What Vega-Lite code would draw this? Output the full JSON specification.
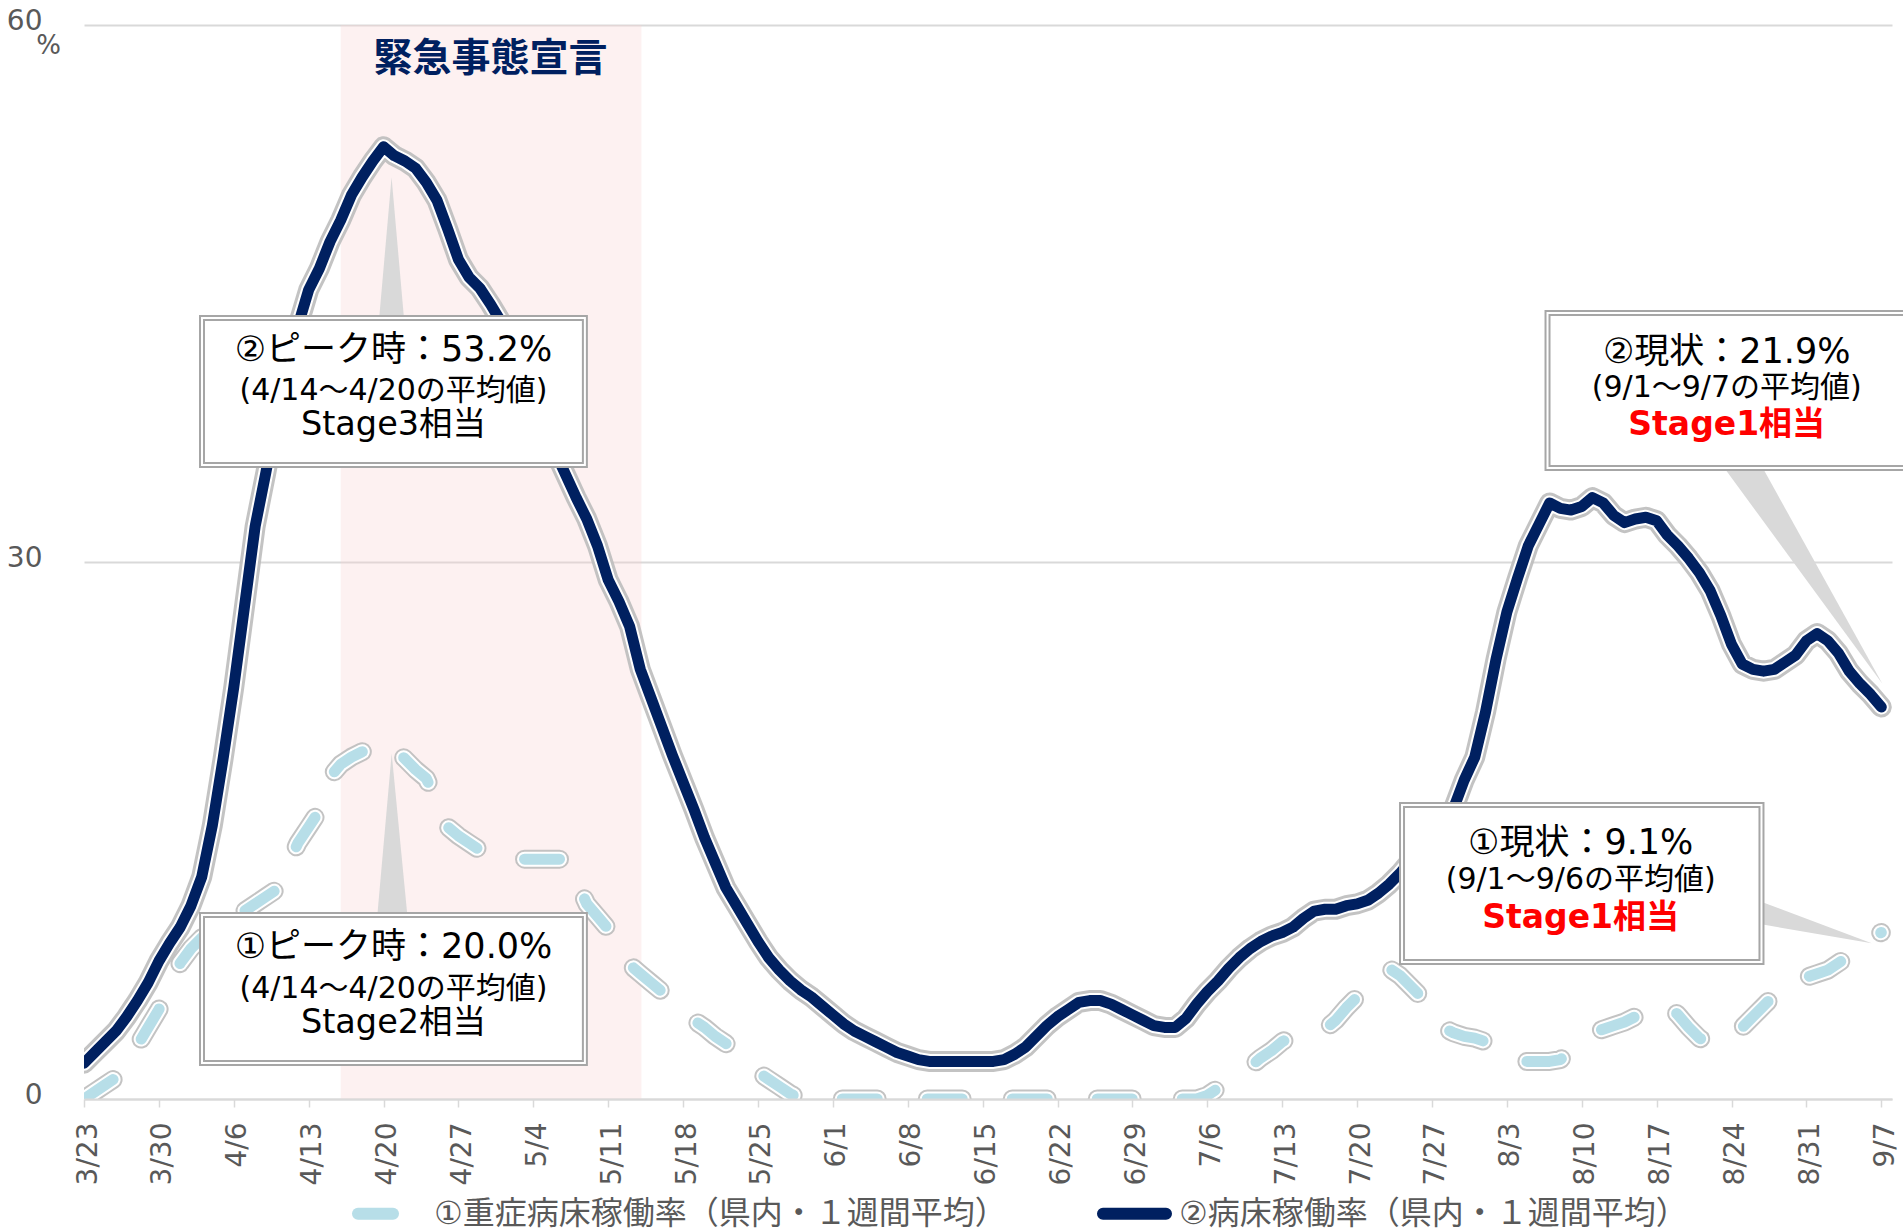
{
  "$schema": "https://vega.github.io/schema/vega-lite/v6.json",
  "width": 1808,
  "height": 1074,
  "autosize": {"type": "none"},
  "padding": {"left": 84, "top": 25, "right": 11, "bottom": 133},
  "background": "white",
  "config": {"font": "DejaVu Sans, Noto Sans CJK JP", "view": {"stroke": null}},
  "datasets": {
    "series": [
      {"d":0,"a":0.0,"b":2.0},{"d":1,"a":0.4,"b":2.6},{"d":2,"a":0.8,"b":3.2},{"d":3,"a":1.2,"b":3.8},{"d":4,"a":1.8,"b":4.6},
      {"d":5,"a":3.0,"b":5.5},{"d":6,"a":4.0,"b":6.5},{"d":7,"a":5.0,"b":7.7},{"d":8,"a":6.3,"b":8.7},{"d":9,"a":7.6,"b":9.6},
      {"d":10,"a":8.4,"b":10.8},{"d":11,"a":9.0,"b":12.4},{"d":12,"a":9.4,"b":15.3},{"d":13,"a":9.8,"b":19.0},{"d":14,"a":10.1,"b":23.0},
      {"d":15,"a":10.5,"b":27.5},{"d":16,"a":10.9,"b":32.0},{"d":17,"a":11.3,"b":35.0},{"d":18,"a":11.7,"b":38.2},{"d":19,"a":13.0,"b":41.0},
      {"d":20,"a":14.3,"b":43.2},{"d":21,"a":15.2,"b":45.2},{"d":22,"a":16.1,"b":46.4},{"d":23,"a":18.0,"b":47.9},{"d":24,"a":18.7,"b":49.1},
      {"d":25,"a":19.1,"b":50.5},{"d":26,"a":19.4,"b":51.5},{"d":27,"a":19.7,"b":52.4},{"d":28,"a":20.0,"b":53.2},{"d":29,"a":19.6,"b":52.7},
      {"d":30,"a":19.0,"b":52.4},{"d":31,"a":18.4,"b":52.0},{"d":32,"a":17.9,"b":51.2},{"d":33,"a":16.6,"b":50.2},{"d":34,"a":15.2,"b":48.6},
      {"d":35,"a":14.7,"b":46.9},{"d":36,"a":14.3,"b":45.9},{"d":37,"a":13.9,"b":45.3},{"d":38,"a":13.6,"b":44.4},{"d":39,"a":13.4,"b":43.4},
      {"d":40,"a":13.4,"b":42.0},{"d":41,"a":13.4,"b":40.5},{"d":42,"a":13.4,"b":39.0},{"d":43,"a":13.4,"b":37.6},{"d":44,"a":13.4,"b":36.2},
      {"d":45,"a":13.4,"b":34.9},{"d":46,"a":12.2,"b":33.6},{"d":47,"a":10.9,"b":32.4},{"d":48,"a":10.2,"b":30.9},{"d":49,"a":9.5,"b":29.0},
      {"d":50,"a":8.5,"b":27.8},{"d":51,"a":7.5,"b":26.4},{"d":52,"a":7.0,"b":24.0},{"d":53,"a":6.5,"b":22.4},{"d":54,"a":6.0,"b":20.8},
      {"d":55,"a":5.5,"b":19.2},{"d":56,"a":5.0,"b":17.7},{"d":57,"a":4.4,"b":16.2},{"d":58,"a":4.0,"b":14.6},{"d":59,"a":3.5,"b":13.2},
      {"d":60,"a":3.1,"b":11.8},{"d":61,"a":2.7,"b":10.8},{"d":62,"a":2.1,"b":9.8},{"d":63,"a":1.5,"b":8.8},{"d":64,"a":1.1,"b":7.9},
      {"d":65,"a":0.7,"b":7.2},{"d":66,"a":0.3,"b":6.6},{"d":67,"a":0,"b":6.1},{"d":68,"a":0,"b":5.7},{"d":69,"a":0,"b":5.2},
      {"d":70,"a":0,"b":4.7},{"d":71,"a":0,"b":4.2},{"d":72,"a":0,"b":3.8},{"d":73,"a":0,"b":3.5},{"d":74,"a":0,"b":3.2},
      {"d":75,"a":0,"b":2.9},{"d":76,"a":0,"b":2.6},{"d":77,"a":0,"b":2.4},{"d":78,"a":0,"b":2.2},{"d":79,"a":0,"b":2.1},
      {"d":80,"a":0,"b":2.1},{"d":81,"a":0,"b":2.1},{"d":82,"a":0,"b":2.1},{"d":83,"a":0,"b":2.1},{"d":84,"a":0,"b":2.1},
      {"d":85,"a":0,"b":2.1},{"d":86,"a":0,"b":2.2},{"d":87,"a":0,"b":2.5},{"d":88,"a":0,"b":2.9},{"d":89,"a":0,"b":3.5},
      {"d":90,"a":0,"b":4.1},{"d":91,"a":0,"b":4.6},{"d":92,"a":0,"b":5.0},{"d":93,"a":0,"b":5.4},{"d":94,"a":0,"b":5.5},
      {"d":95,"a":0,"b":5.5},{"d":96,"a":0,"b":5.3},{"d":97,"a":0,"b":5.0},{"d":98,"a":0,"b":4.7},{"d":99,"a":0,"b":4.4},
      {"d":100,"a":0,"b":4.1},{"d":101,"a":0,"b":4.0},{"d":102,"a":0,"b":4.0},{"d":103,"a":0,"b":4.5},{"d":104,"a":0,"b":5.3},
      {"d":105,"a":0.2,"b":6.0},{"d":106,"a":0.6,"b":6.6},{"d":107,"a":0.9,"b":7.3},{"d":108,"a":1.4,"b":7.9},{"d":109,"a":1.8,"b":8.4},
      {"d":110,"a":2.3,"b":8.8},{"d":111,"a":2.7,"b":9.1},{"d":112,"a":3.2,"b":9.3},{"d":113,"a":3.5,"b":9.6},{"d":114,"a":3.6,"b":10.1},
      {"d":115,"a":3.7,"b":10.5},{"d":116,"a":3.9,"b":10.6},{"d":117,"a":4.4,"b":10.6},{"d":118,"a":5.1,"b":10.8},{"d":119,"a":5.7,"b":10.9},
      {"d":120,"a":6.3,"b":11.1},{"d":121,"a":6.9,"b":11.5},{"d":122,"a":7.3,"b":12.0},{"d":123,"a":6.9,"b":12.6},{"d":124,"a":6.3,"b":13.3},
      {"d":125,"a":5.7,"b":13.9},{"d":126,"a":4.8,"b":14.6},{"d":127,"a":4.0,"b":15.4},{"d":128,"a":3.7,"b":16.2},{"d":129,"a":3.5,"b":17.8},
      {"d":130,"a":3.4,"b":19.1},{"d":131,"a":3.2,"b":21.6},{"d":132,"a":2.7,"b":24.6},{"d":133,"a":2.3,"b":27.2},{"d":134,"a":2.1,"b":29.1},
      {"d":135,"a":2.1,"b":30.9},{"d":136,"a":2.1,"b":32.1},{"d":137,"a":2.1,"b":33.3},{"d":138,"a":2.2,"b":33.0},{"d":139,"a":2.7,"b":32.9},
      {"d":140,"a":3.2,"b":33.1},{"d":141,"a":3.7,"b":33.6},{"d":142,"a":3.9,"b":33.3},{"d":143,"a":4.1,"b":32.6},{"d":144,"a":4.3,"b":32.2},
      {"d":145,"a":4.6,"b":32.4},{"d":146,"a":5.0,"b":32.5},{"d":147,"a":5.3,"b":32.3},{"d":148,"a":5.3,"b":31.5},{"d":149,"a":4.7,"b":30.9},
      {"d":150,"a":4.0,"b":30.2},{"d":151,"a":3.4,"b":29.4},{"d":152,"a":3.1,"b":28.4},{"d":153,"a":3.1,"b":27.0},{"d":154,"a":3.4,"b":25.4},
      {"d":155,"a":4.0,"b":24.3},{"d":156,"a":4.6,"b":24.0},{"d":157,"a":5.2,"b":23.9},{"d":158,"a":5.8,"b":24.0},{"d":159,"a":6.4,"b":24.4},
      {"d":160,"a":6.7,"b":24.8},{"d":161,"a":6.8,"b":25.6},{"d":162,"a":7.0,"b":26.0},{"d":163,"a":7.2,"b":25.6},{"d":164,"a":7.6,"b":24.9},
      {"d":165,"a":8.0,"b":23.9},{"d":166,"a":8.6,"b":23.2},{"d":167,"a":9.1,"b":22.6},{"d":168,"a":9.3,"b":21.9}
    ],
    "band": [{"d":24,"d2":52.1,"v":0,"v2":60}],
    "bandLabel": [{"d":38,"v":58.08,"t":"緊急事態宣言"}],
    "pointers": [
      {"p":1,"d":27.5,"v":43.0,"v2":43.0},{"p":1,"d":28.75,"v":51.5,"v2":43.0},{"p":1,"d":30.0,"v":43.0,"v2":43.0},
      {"p":2,"d":27.35,"v":9.8,"v2":9.8},{"p":2,"d":28.76,"v":19.3,"v2":9.8},{"p":2,"d":30.3,"v":9.8,"v2":9.8},
      {"p":3,"d":152.9,"v":35.6,"v2":35.6},{"p":3,"d":156.6,"v":35.6,"v2":32.58},{"p":3,"d":168.1,"v":23.2,"v2":23.2},
      {"p":4,"d":156.4,"v":11.1,"v2":9.8},{"p":4,"d":167.1,"v":8.7,"v2":8.7}
    ],
    "boxes": [
      {"d":11.03,"d2":46.82,"v":43.63,"v2":35.42},
      {"d":11.03,"d2":46.82,"v":10.28,"v2":2.01},
      {"d":136.8,"d2":171,"v":43.91,"v2":35.25},
      {"d":123.2,"d2":156.8,"v":16.42,"v2":7.65}
    ],
    "texts": [
      {"d":28.93,"v":41.84,"t":"②ピーク時：53.2%","r":"head"},
      {"d":28.93,"v":39.55,"t":"(4/14～4/20の平均値)","r":"sub"},
      {"d":28.93,"v":37.65,"t":"Stage3相当","r":"stage"},
      {"d":28.93,"v":8.49,"t":"①ピーク時：20.0%","r":"head"},
      {"d":28.93,"v":6.15,"t":"(4/14～4/20の平均値)","r":"sub"},
      {"d":28.93,"v":4.25,"t":"Stage2相当","r":"stage"},
      {"d":153.55,"v":41.73,"t":"②現状：21.9%","r":"head"},
      {"d":153.55,"v":39.72,"t":"(9/1～9/7の平均値)","r":"sub"},
      {"d":153.55,"v":37.65,"t":"Stage1相当","r":"red"},
      {"d":139.9,"v":14.30,"t":"①現状：9.1%","r":"head"},
      {"d":139.9,"v":12.23,"t":"(9/1～9/6の平均値)","r":"sub"},
      {"d":139.9,"v":10.11,"t":"Stage1相当","r":"red"}
    ]
  },
  "encoding": {
    "x": {
      "field": "d", "type": "quantitative",
      "scale": {"domain": [0, 169], "nice": false, "zero": false},
      "axis": {
        "title": null,
        "values": [0,7,14,21,28,35,42,49,56,63,70,77,84,91,98,105,112,119,126,133,140,147,154,161,168],
        "labelExpr": "timeFormat(datetime(2020, 2, 23 + datum.value), '%-m/%-d')",
        "labelAngle": -90, "labelAlign": "right", "labelBaseline": "middle",
        "labelFontSize": 28, "labelColor": "#595959", "labelPadding": 15, "labelOffset": 4,
        "labelFlush": false, "labelOverlap": false,
        "tickSize": 8, "tickColor": "#D9D9D9", "tickWidth": 1.5,
        "domainColor": "#D9D9D9", "domainWidth": 2, "grid": false, "zindex": 1
      }
    },
    "y": {
      "field": "v", "type": "quantitative",
      "scale": {"domain": [0, 60], "nice": false},
      "axis": {
        "title": "%", "titleAngle": 0, "titleX": -36, "titleY": 20, "titleAlign": "center", "titleBaseline": "middle",
        "titleFontSize": 26, "titleFontWeight": "normal", "titleColor": "#595959",
        "values": [0, 30, 60], "domain": false, "ticks": false,
        "grid": true, "gridColor": "#D9D9D9", "gridWidth": 2,
        "labelFontSize": 28, "labelColor": "#595959", "labelPadding": 42, "labelOffset": -4
      }
    }
  },
  "layer": [
    {
      "data": {"name": "band"},
      "mark": {"type": "rect", "color": "#F8D0D0", "opacity": 0.3},
      "encoding": {"x2": {"field": "d2"}, "y2": {"field": "v2"}}
    },
    {
      "data": {"name": "bandLabel"},
      "mark": {"type": "text", "font": "Noto Sans CJK JP", "fontSize": 39, "fontWeight": "bold", "color": "#002060", "align": "center", "baseline": "middle"},
      "encoding": {"text": {"field": "t"}}
    },
    {
      "data": {"name": "pointers"},
      "mark": {"type": "area", "color": "#D9D9D9", "opacity": 1},
      "encoding": {"y2": {"field": "v2"}, "detail": {"field": "p"}}
    },
    {
      "data": {"name": "series"},
      "transform": [{"fold": ["a", "b"], "as": ["k", "v"]}, {"filter": "datum.k === 'a'"}],
      "mark": {"type": "line", "clip": true, "stroke": "#BDBDBD", "strokeWidth": 19, "strokeDash": [35, 50], "strokeCap": "round", "strokeJoin": "round", "opacity": 0.9},
      "encoding": {}
    },
    {
      "data": {"name": "series"},
      "transform": [{"fold": ["a", "b"], "as": ["k", "v"]}, {"filter": "datum.k === 'a'"}],
      "mark": {"type": "line", "clip": true, "stroke": "#FFFFFF", "strokeWidth": 15, "strokeDash": [35, 50], "strokeCap": "round", "strokeJoin": "round"},
      "encoding": {}
    },
    {
      "data": {"name": "series"},
      "transform": [{"fold": ["a", "b"], "as": ["k", "v"]}, {"filter": "datum.k === 'a'"}],
      "mark": {"type": "line", "clip": true, "strokeWidth": 11, "strokeDash": [35, 50], "strokeCap": "round", "strokeJoin": "round"},
      "encoding": {
        "color": {
          "field": "k", "type": "nominal",
          "scale": {"domain": ["a", "b"], "range": ["#B7DEE8", "#002060"]},
          "legend": {
            "orient": "none", "legendX": 268, "legendY": 1151, "direction": "horizontal", "title": null,
            "symbolType": "stroke", "symbolSize": 3969, "symbolStrokeWidth": 12,
            "labelFontSize": 32, "labelColor": "#595959", "labelOffset": 7, "columnPadding": 72, "padding": 0, "labelLimit": 0,
            "labelExpr": "datum.label === 'a' ? '①重症病床稼働率（県内・１週間平均）' : '②病床稼働率（県内・１週間平均）'",
            "encode": {"symbols": {"update": {"strokeDash": {"signal": "datum.value === 'a' ? [35, 50] : [1, 0]"}, "strokeCap": {"value": "round"}}}}
          }
        }
      }
    },
    {
      "data": {"name": "series"},
      "transform": [{"fold": ["a", "b"], "as": ["k", "v"]}, {"filter": "datum.k === 'b'"}],
      "mark": {"type": "line", "clip": true, "stroke": "#BDBDBD", "strokeWidth": 21, "strokeCap": "round", "strokeJoin": "round", "opacity": 0.9},
      "encoding": {}
    },
    {
      "data": {"name": "series"},
      "transform": [{"fold": ["a", "b"], "as": ["k", "v"]}, {"filter": "datum.k === 'b'"}],
      "mark": {"type": "line", "clip": true, "stroke": "#FFFFFF", "strokeWidth": 15, "strokeCap": "round", "strokeJoin": "round"},
      "encoding": {}
    },
    {
      "data": {"name": "series"},
      "transform": [{"fold": ["a", "b"], "as": ["k", "v"]}, {"filter": "datum.k === 'b'"}],
      "mark": {"type": "line", "clip": true, "strokeWidth": 11, "strokeCap": "round", "strokeJoin": "round"},
      "encoding": {"color": {"field": "k", "type": "nominal", "scale": {"domain": ["a", "b"], "range": ["#B7DEE8", "#002060"]}}}
    },
    {
      "data": {"name": "boxes"},
      "mark": {"type": "rect", "fill": "#FFFFFF", "stroke": "#A6A6A6", "strokeWidth": 6},
      "encoding": {"x2": {"field": "d2"}, "y2": {"field": "v2"}}
    },
    {
      "data": {"name": "boxes"},
      "mark": {"type": "rect", "filled": false, "color": "#FFFFFF", "strokeWidth": 2},
      "encoding": {"x2": {"field": "d2"}, "y2": {"field": "v2"}}
    },
    {
      "data": {"name": "texts"},
      "transform": [{"filter": "datum.r === 'head'"}],
      "mark": {"type": "text", "fontSize": 35, "color": "#000000", "align": "center", "baseline": "middle"},
      "encoding": {"text": {"field": "t"}}
    },
    {
      "data": {"name": "texts"},
      "transform": [{"filter": "datum.r === 'sub'"}],
      "mark": {"type": "text", "fontSize": 30, "color": "#000000", "align": "center", "baseline": "middle"},
      "encoding": {"text": {"field": "t"}}
    },
    {
      "data": {"name": "texts"},
      "transform": [{"filter": "datum.r === 'stage'"}],
      "mark": {"type": "text", "fontSize": 33.5, "color": "#000000", "align": "center", "baseline": "middle"},
      "encoding": {"text": {"field": "t"}}
    },
    {
      "data": {"name": "texts"},
      "transform": [{"filter": "datum.r === 'red'"}],
      "mark": {"type": "text", "fontSize": 33, "fontWeight": "bold", "color": "#FF0000", "align": "center", "baseline": "middle"},
      "encoding": {"text": {"field": "t"}}
    }
  ]
}
